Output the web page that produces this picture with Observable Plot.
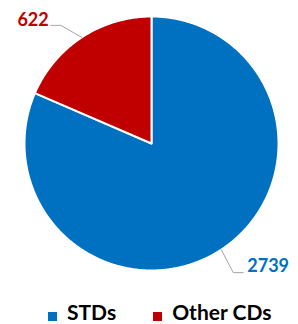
<!DOCTYPE html>
<html><head><meta charset="utf-8">
<script src="https://cdn.jsdelivr.net/npm/d3@7"></script>
<script src="https://cdn.jsdelivr.net/npm/@observablehq/plot@0.6"></script>
<style>
body{margin:0;background:#fff;font-family:Lato,"Open Sans",sans-serif;}
#wrap{position:relative;width:298px;height:324px;overflow:hidden;}
.legend{position:absolute;left:48px;top:299px;display:flex;align-items:flex-start;font:bold 21px Lato,sans-serif;line-height:26px;color:#000;white-space:nowrap;}
.item{display:flex;align-items:flex-start;}
.sw{width:9px;height:9px;margin-top:13px;margin-right:10px;}
</style></head><body><div id="wrap"><div id="chart"></div><div class="legend" id="legend"></div></div>
<script>
const categories = ["STDs", "Other CDs"];
const values = [2739, 622];
const colors = ["#0070C0", "#C00000"];

const rows = categories.map((c, i) => ({category: c, value: values[i]}));
const arcs = d3.pie().sort(null).value(d => d.value)(rows);

// slice outlines from pie angles
const slices = [];
arcs.forEach(p => {
  const c = p.data.category;
  const n = Math.max(2, Math.ceil((p.endAngle - p.startAngle) / (Math.PI / 360)));
  slices.push({category: c, x: 0, y: 0});
  for (let k = 0; k <= n; k++) {
    const a = p.startAngle + (p.endAngle - p.startAngle) * k / n;
    slices.push({category: c, x: Math.sin(a), y: Math.cos(a)});
  }
  slices.push({category: c, x: 0, y: 0});
});

// label layout (pixel offsets converted to radius units)
const R = 127;
const layout = [
  {elbow: [12, 23], end: [22, 23], text: [26, 16.5], anchor: "start"},
  {elbow: [-21, -12], end: [-31, -12], text: [-33, -17.5], anchor: "end"}
];
const leaders = [];
const labels = [];
arcs.forEach((p, i) => {
  const m = (p.startAngle + p.endAngle) / 2;
  const ex = Math.sin(m), ey = Math.cos(m);
  const L = layout[i];
  const c = p.data.category;
  leaders.push({category: c, x: ex, y: ey});
  leaders.push({category: c, x: ex + L.elbow[0] / R, y: ey - L.elbow[1] / R});
  leaders.push({category: c, x: ex + L.end[0] / R, y: ey - L.end[1] / R});
  labels.push({category: c, value: p.data.value, x: ex + L.text[0] / R, y: ey - L.text[1] / R, anchor: L.anchor});
});

const color = {domain: categories, range: colors};

const chart = Plot.plot({
  width: 298,
  height: 296,
  margin: 0,
  x: {domain: [-1, 1], range: [151 - R, 151 + R], axis: null},
  y: {domain: [-1, 1], range: [143 + R, 143 - R], axis: null},
  color,
  style: {background: "#fff", fontFamily: "Lato, sans-serif"},
  marks: [
    Plot.line(slices, {x: "x", y: "y", z: "category", fill: "category", stroke: "#fff", strokeWidth: 2, strokeLinejoin: "round", curve: "linear"}),
    Plot.line(leaders, {x: "x", y: "y", z: "category", stroke: "#A6A6A6", strokeWidth: 1}),
    Plot.text(labels.filter(d => d.anchor === "start"), {x: "x", y: "y", text: d => String(d.value), fill: "category", fontSize: 18, fontWeight: "bold", textAnchor: "start"}),
    Plot.text(labels.filter(d => d.anchor === "end"), {x: "x", y: "y", text: d => String(d.value), fill: "category", fontSize: 18, fontWeight: "bold", textAnchor: "end"})
  ]
});
document.getElementById("chart").appendChild(chart);

const leg = document.getElementById("legend");
categories.forEach((c, i) => {
  const it = document.createElement("div");
  it.className = "item";
  if (i > 0) it.style.marginLeft = "37px";
  const sw = document.createElement("div");
  sw.className = "sw";
  sw.style.background = colors[i];
  const t = document.createElement("span");
  t.textContent = c;
  it.appendChild(sw); it.appendChild(t);
  leg.appendChild(it);
});
</script></body></html>
